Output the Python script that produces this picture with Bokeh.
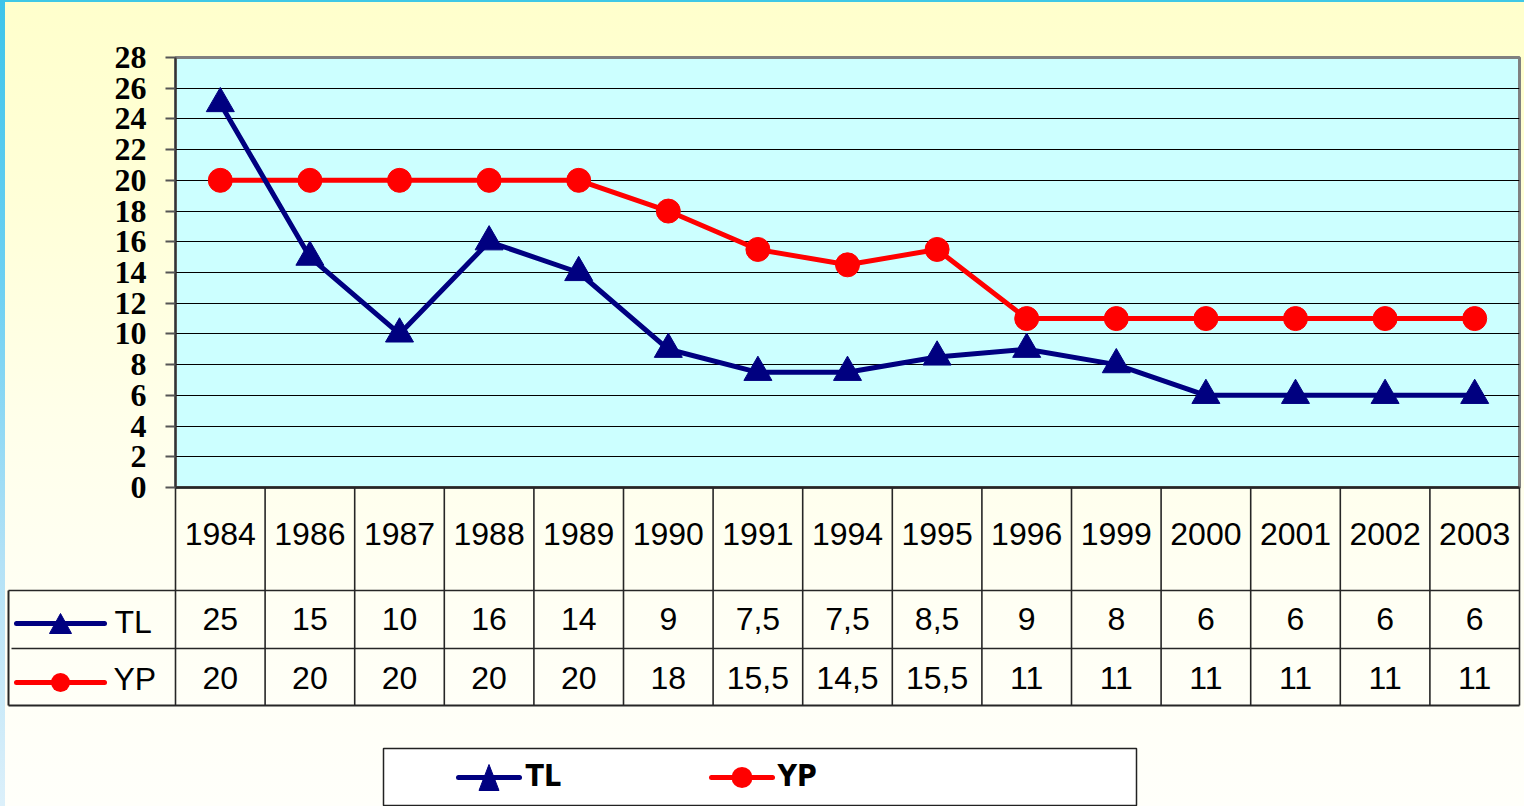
from bokeh.plotting import figure
from bokeh.models import Range1d, FixedTicker
from bokeh.core.properties import value
from bokeh.embed import file_html
from bokeh.resources import INLINE

# ---------------- data ----------------
years = ["1984", "1986", "1987", "1988", "1989", "1990", "1991", "1994",
         "1995", "1996", "1999", "2000", "2001", "2002", "2003"]
tl = [25, 15, 10, 16, 14, 9, 7.5, 7.5, 8.5, 9, 8, 6, 6, 6, 6]
yp = [20, 20, 20, 20, 20, 18, 15.5, 14.5, 15.5, 11, 11, 11, 11, 11, 11]
tl_labels = ["25", "15", "10", "16", "14", "9", "7,5", "7,5", "8,5", "9", "8", "6", "6", "6", "6"]
yp_labels = ["20", "20", "20", "20", "20", "18", "15,5", "14,5", "15,5", "11", "11", "11", "11", "11", "11"]
y_ticks = list(range(0, 29, 2))
series_names = ["TL", "YP"]

NAVY = "#000080"
RED = "#FF0000"
SANS = value("Liberation Sans")
NARROW = value("'Liberation Sans Narrow', 'DejaVu Sans Condensed', 'Liberation Sans', sans-serif")

W, H = 1524, 806
FL, FR, FT, FB = 175, 1519, 57, 487   # plot-area edges on the canvas
n = len(years)
cx = [i + 0.5 for i in range(n)]      # centre of each year's cell (category units)

p = figure(width=W, height=H,
           x_range=Range1d(0, n),
           y_range=Range1d(0, 28),
           x_axis_location=None,
           output_backend="svg", toolbar_location=None,
           min_border_left=FL, min_border_right=W - FR,
           min_border_top=FT, min_border_bottom=H - FB)
p.background_fill_color = "#CCFFFF"
p.border_fill_color = None
p.outline_line_color = "#808080"
p.outline_line_width = 3
p.styles = {
    "background": (
        "linear-gradient(180deg, #3CC4EA 0%, #6CD0F2 35%, #B4E2F6 70%, #DCF0FA 100%) left top / 5px 100% no-repeat, "
        "linear-gradient(180deg, #3FC8E6 0px, #3FC8E6 2px, rgba(255,255,255,0) 2px) left top / 100% 3px no-repeat, "
        "linear-gradient(180deg, #FFFFCC 0%, #FFFFD8 25%, #FFFFEA 52%, #FFFFF4 75%, #FFFFFA 100%)"
    )
}

ax = p.yaxis[0]
ax.ticker = FixedTicker(ticks=y_ticks)
ax.major_label_text_font = "Liberation Serif"
ax.major_label_text_font_style = "bold"
ax.major_label_text_font_size = "32px"
ax.major_label_text_color = "black"
ax.major_label_standoff = 19
ax.major_tick_out = 10
ax.major_tick_in = 0
ax.minor_tick_out = 0
ax.minor_tick_in = 0
ax.major_tick_line_color = "#555555"
ax.major_tick_line_width = 2
ax.axis_line_color = "#333333"
ax.axis_line_width = 2

p.xgrid.visible = False
p.ygrid.ticker = FixedTicker(ticks=y_ticks)
p.ygrid.grid_line_color = "black"
p.ygrid.grid_line_width = 1
p.ygrid.grid_line_alpha = 1

p.line(cx, yp, color=RED, line_width=5)
p.scatter(cx, yp, marker="circle", size=24, color=RED)
p.line(cx, tl, color=NAVY, line_width=5)
p.scatter(cx, tl, marker="triangle", size=28, color=NAVY)

# ---------------- data table + legend (below the plot area) ----------------
U = (FR - FL) / n                      # px per category cell
p.extra_y_ranges = {"py": Range1d(FB, FT)}        # canvas-pixel rows
kw = dict(y_range_name="py", level="guide")

def ux(px):
    return (px - FL) / U

def key(x0, x1, y, color, shape, mw, mh):
    """legend key: a line with a marker in its middle (drawn as line + patch/dot)"""
    p.line([ux(x0), ux(x1)], [y, y], color=color, line_width=5, line_cap="round", **kw)
    xm = (x0 + x1) / 2
    if shape == "triangle":
        p.patch([ux(xm - mw / 2), ux(xm + mw / 2), ux(xm)],
                [y + mh / 2, y + mh / 2, y - mh / 2], color=color, **kw)
    else:
        p.line([ux(xm), ux(xm) + 1e-6], [y, y], color=color, line_width=mw,
               line_cap="round", **kw)

LC = "#262626"
vx = list(range(n + 1))
p.segment(x0=vx, y0=[FB] * (n + 1), x1=vx, y1=[705] * (n + 1),
          line_color=LC, line_width=1.6, **kw)
p.segment(x0=[0, ux(8), ux(11), ux(8), ux(8)],
          y0=[FB, 590, 648, 705, 590],
          x1=[n, n, n, n, ux(8)],
          y1=[FB, 590, 648, 705, 705],
          line_color=LC, line_width=[2.5, 1.6, 1.6, 2, 2], **kw)

p.text(x=cx, y=[533] * n, text=years, text_font=SANS, text_font_size="32px",
       text_align="center", text_baseline="middle", text_color="black", **kw)
p.text(x=cx, y=[618] * n, text=tl_labels, text_font=SANS, text_font_size="32px",
       text_align="center", text_baseline="middle", text_color="black", **kw)
p.text(x=cx, y=[677] * n, text=yp_labels, text_font=SANS, text_font_size="32px",
       text_align="center", text_baseline="middle", text_color="black", **kw)

# row keys
key(16, 104, 623, NAVY, "triangle", 22, 20)
p.text(x=[ux(114)], y=[621], text=[series_names[0]], text_font=SANS, text_font_size="32px",
       text_align="left", text_baseline="middle", text_color="black", **kw)
key(16, 104, 682, RED, "circle", 19, 19)
p.text(x=[ux(113)], y=[678], text=[series_names[1]], text_font=SANS, text_font_size="32px",
       text_align="left", text_baseline="middle", text_color="black", **kw)

# bottom legend box
p.quad(left=[ux(383)], right=[ux(1136)], top=[748], bottom=[805],
       fill_color="white", line_color="#222222", line_width=1.5, **kw)
key(458, 519, 777, NAVY, "triangle", 20, 26)
p.text(x=[ux(525)], y=[775], text=[series_names[0]], text_font=NARROW, text_font_style="bold",
       text_font_size="30px", text_align="left", text_baseline="middle", text_color="black", **kw)
key(711, 772, 777, RED, "circle", 21, 21)
p.text(x=[ux(777)], y=[775], text=[series_names[1]], text_font=NARROW, text_font_style="bold",
       text_font_size="30px", text_align="left", text_baseline="middle", text_color="black", **kw)

open("out.html", "w").write(file_html(p, INLINE))
